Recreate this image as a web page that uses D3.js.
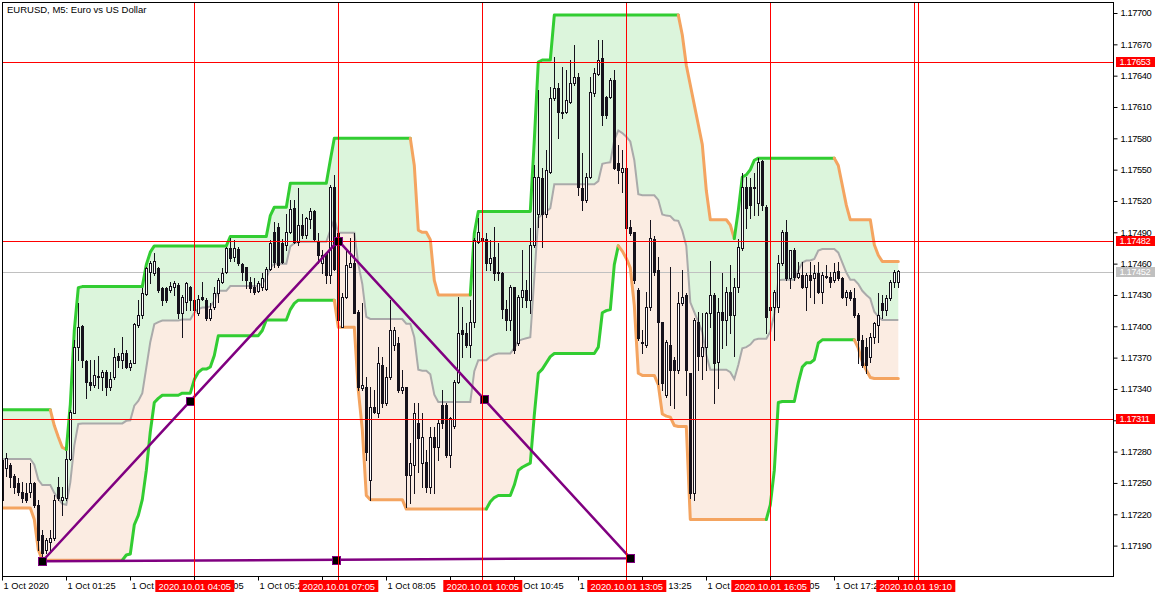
<!DOCTYPE html>
<html><head><meta charset="utf-8">
<script src="https://cdn.jsdelivr.net/npm/d3@7"></script>
<style>body{margin:0;background:#fff}svg{display:block}text{font-family:"Liberation Sans",Arial,sans-serif}</style>
</head><body><svg id="c" width="1166" height="597"></svg>
<script>
const title = "EURUSD, M5:  Euro vs US Dollar";
const open = [1.17272,1.17264,1.17267,1.17257,1.17250,1.17241,1.17240,1.17241,1.17250,1.17229,
1.17200,1.17186,1.17193,1.17197,1.17246,1.17234,1.17236,1.17273,1.17317,1.17380,
1.17400,1.17367,1.17347,1.17344,1.17351,1.17351,1.17356,1.17342,1.17351,1.17372,
1.17368,1.17374,1.17361,1.17365,1.17401,1.17411,1.17431,1.17452,1.17451,1.17456,
1.17437,1.17437,1.17435,1.17438,1.17440,1.17413,1.17423,1.17438,1.17425,1.17413,
1.17428,1.17425,1.17408,1.17418,1.17432,1.17442,1.17452,1.17475,1.17466,1.17474,
1.17460,1.17457,1.17442,1.17438,1.17434,1.17438,1.17436,1.17455,1.17490,1.17495,
1.17480,1.17478,1.17490,1.17513,1.17481,1.17497,1.17487,1.17503,1.17510,1.17481,
1.17461,1.17470,1.17449,1.17533,1.17489,1.17399,1.17428,1.17457,1.17461,1.17414,
1.17341,1.17342,1.17253,1.17323,1.17317,1.17363,1.17327,1.17351,1.17382,1.17384,
1.17339,1.17342,1.17258,1.17267,1.17307,1.17269,1.17270,1.17246,1.17294,1.17284,
1.17325,1.17325,1.17277,1.17305,1.17347,1.17396,1.17394,1.17382,1.17404,1.17481,
1.17485,1.17484,1.17461,1.17466,1.17452,1.17451,1.17417,1.17406,1.17438,1.17384,
1.17428,1.17435,1.17425,1.17478,1.17508,1.17542,1.17508,1.17548,1.17619,1.17628,
1.17605,1.17605,1.17615,1.17633,1.17639,1.17532,1.17521,1.17543,1.17623,1.17642,
1.17657,1.17620,1.17620,1.17636,1.17556,1.17548,1.17552,1.17495,1.17490,1.17435,
1.17384,1.17382,1.17418,1.17484,1.17454,1.17404,1.17334,1.17382,1.17368,1.17358,
1.17422,1.17430,1.17355,1.17240,1.17404,1.17372,1.17380,1.17413,1.17430,1.17366,
1.17414,1.17406,1.17433,1.17411,1.17438,1.17475,1.17533,1.17533,1.17533,1.17518,
1.17558,1.17514,1.17416,1.17418,1.17418,1.17461,1.17490,1.17446,1.17473,1.17447,
1.17449,1.17438,1.17449,1.17446,1.17451,1.17433,1.17448,1.17447,1.17444,1.17453,
1.17446,1.17428,1.17433,1.17427,1.17411,1.17387,1.17380,1.17371,1.17390,1.17401,
1.17422,1.17416,1.17427,1.17442,1.17442];
const high = [1.17277,1.17279,1.17269,1.17259,1.17255,1.17251,1.17250,1.17269,1.17251,1.17234,
1.17205,1.17197,1.17205,1.17238,1.17256,1.17246,1.17281,1.17320,1.17387,1.17422,
1.17401,1.17368,1.17368,1.17368,1.17372,1.17358,1.17358,1.17356,1.17379,1.17374,
1.17390,1.17377,1.17368,1.17403,1.17425,1.17437,1.17457,1.17463,1.17470,1.17457,
1.17438,1.17438,1.17442,1.17443,1.17441,1.17430,1.17442,1.17439,1.17435,1.17430,
1.17442,1.17427,1.17422,1.17438,1.17446,1.17456,1.17476,1.17485,1.17483,1.17476,
1.17461,1.17457,1.17447,1.17446,1.17443,1.17451,1.17457,1.17483,1.17500,1.17499,
1.17484,1.17508,1.17521,1.17521,1.17532,1.17508,1.17505,1.17513,1.17511,1.17489,
1.17473,1.17470,1.17535,1.17545,1.17494,1.17432,1.17473,1.17485,1.17489,1.17416,
1.17422,1.17351,1.17342,1.17339,1.17380,1.17371,1.17361,1.17425,1.17399,1.17390,
1.17358,1.17342,1.17288,1.17327,1.17327,1.17317,1.17282,1.17304,1.17304,1.17310,
1.17339,1.17327,1.17313,1.17349,1.17428,1.17418,1.17403,1.17425,1.17485,1.17504,
1.17494,1.17489,1.17483,1.17495,1.17480,1.17452,1.17425,1.17440,1.17438,1.17430,
1.17473,1.17444,1.17494,1.17554,1.17626,1.17552,1.17569,1.17629,1.17658,1.17633,
1.17648,1.17645,1.17655,1.17669,1.17643,1.17566,1.17547,1.17639,1.17647,1.17674,
1.17674,1.17621,1.17638,1.17645,1.17574,1.17569,1.17554,1.17502,1.17490,1.17437,
1.17396,1.17433,1.17502,1.17486,1.17466,1.17404,1.17387,1.17457,1.17371,1.17433,
1.17454,1.17432,1.17355,1.17408,1.17414,1.17413,1.17414,1.17463,1.17432,1.17427,
1.17451,1.17438,1.17459,1.17446,1.17484,1.17547,1.17543,1.17542,1.17547,1.17561,
1.17559,1.17516,1.17435,1.17435,1.17468,1.17492,1.17502,1.17473,1.17475,1.17462,
1.17462,1.17451,1.17462,1.17459,1.17462,1.17452,1.17459,1.17452,1.17461,1.17462,
1.17447,1.17435,1.17435,1.17437,1.17413,1.17392,1.17389,1.17394,1.17404,1.17432,
1.17430,1.17430,1.17444,1.17454,1.17454];
const low = [1.17232,1.17257,1.17246,1.17240,1.17238,1.17232,1.17232,1.17237,1.17227,1.17186,
1.17179,1.17183,1.17186,1.17195,1.17234,1.17219,1.17234,1.17272,1.17317,1.17368,
1.17361,1.17331,1.17339,1.17342,1.17341,1.17339,1.17334,1.17339,1.17350,1.17361,
1.17360,1.17360,1.17358,1.17365,1.17399,1.17408,1.17430,1.17441,1.17449,1.17433,
1.17420,1.17423,1.17433,1.17430,1.17408,1.17390,1.17416,1.17416,1.17413,1.17411,
1.17425,1.17406,1.17406,1.17417,1.17423,1.17441,1.17451,1.17463,1.17463,1.17459,
1.17444,1.17437,1.17433,1.17431,1.17433,1.17435,1.17435,1.17454,1.17457,1.17457,
1.17461,1.17473,1.17489,1.17480,1.17478,1.17485,1.17485,1.17494,1.17483,1.17461,
1.17451,1.17441,1.17441,1.17454,1.17399,1.17399,1.17427,1.17457,1.17413,1.17339,
1.17339,1.17272,1.17234,1.17317,1.17313,1.17323,1.17325,1.17350,1.17377,1.17337,
1.17336,1.17227,1.17231,1.17240,1.17260,1.17246,1.17241,1.17240,1.17240,1.17272,
1.17303,1.17275,1.17265,1.17303,1.17346,1.17371,1.17380,1.17371,1.17399,1.17480,
1.17461,1.17454,1.17454,1.17444,1.17444,1.17408,1.17396,1.17396,1.17374,1.17382,
1.17418,1.17418,1.17413,1.17476,1.17495,1.17476,1.17505,1.17547,1.17617,1.17580,
1.17599,1.17604,1.17614,1.17631,1.17526,1.17511,1.17519,1.17542,1.17621,1.17641,
1.17593,1.17599,1.17619,1.17551,1.17537,1.17529,1.17492,1.17487,1.17441,1.17387,
1.17374,1.17380,1.17416,1.17449,1.17345,1.17339,1.17332,1.17325,1.17322,1.17355,
1.17420,1.17334,1.17236,1.17234,1.17358,1.17350,1.17358,1.17399,1.17327,1.17341,
1.17379,1.17382,1.17394,1.17372,1.17433,1.17473,1.17494,1.17504,1.17507,1.17507,
1.17511,1.17394,1.17387,1.17387,1.17414,1.17459,1.17444,1.17437,1.17444,1.17446,
1.17437,1.17416,1.17428,1.17422,1.17432,1.17422,1.17446,1.17438,1.17442,1.17444,
1.17427,1.17420,1.17425,1.17409,1.17365,1.17361,1.17355,1.17366,1.17384,1.17385,
1.17408,1.17411,1.17425,1.17438,1.17438];
const close = [1.17234,1.17274,1.17256,1.17246,1.17241,1.17236,1.17234,1.17250,1.17229,1.17195,
1.17183,1.17195,1.17197,1.17234,1.17236,1.17237,1.17273,1.17318,1.17380,1.17399,
1.17368,1.17347,1.17344,1.17353,1.17352,1.17356,1.17342,1.17350,1.17371,1.17368,
1.17374,1.17361,1.17365,1.17402,1.17411,1.17432,1.17456,1.17461,1.17463,1.17435,
1.17425,1.17425,1.17439,1.17441,1.17413,1.17428,1.17441,1.17425,1.17416,1.17426,
1.17426,1.17408,1.17417,1.17432,1.17444,1.17451,1.17475,1.17465,1.17475,1.17461,
1.17452,1.17444,1.17437,1.17433,1.17441,1.17446,1.17455,1.17480,1.17462,1.17459,
1.17462,1.17490,1.17512,1.17481,1.17497,1.17487,1.17504,1.17510,1.17484,1.17468,
1.17468,1.17449,1.17533,1.17455,1.17406,1.17428,1.17459,1.17461,1.17413,1.17342,
1.17344,1.17280,1.17323,1.17318,1.17365,1.17327,1.17351,1.17396,1.17396,1.17339,
1.17342,1.17258,1.17269,1.17317,1.17293,1.17294,1.17246,1.17294,1.17284,1.17307,
1.17307,1.17277,1.17312,1.17347,1.17394,1.17393,1.17382,1.17404,1.17483,1.17490,
1.17483,1.17461,1.17465,1.17451,1.17451,1.17417,1.17406,1.17438,1.17377,1.17428,
1.17435,1.17425,1.17478,1.17543,1.17543,1.17508,1.17550,1.17619,1.17628,1.17605,
1.17604,1.17617,1.17633,1.17639,1.17533,1.17521,1.17543,1.17624,1.17643,1.17655,
1.17602,1.17602,1.17636,1.17552,1.17550,1.17552,1.17494,1.17489,1.17444,1.17389,
1.17385,1.17418,1.17485,1.17452,1.17404,1.17346,1.17385,1.17358,1.17358,1.17422,
1.17428,1.17358,1.17240,1.17406,1.17372,1.17380,1.17413,1.17430,1.17365,1.17414,
1.17406,1.17433,1.17411,1.17438,1.17476,1.17533,1.17513,1.17516,1.17532,1.17557,
1.17516,1.17409,1.17418,1.17433,1.17461,1.17490,1.17446,1.17473,1.17447,1.17451,
1.17438,1.17449,1.17444,1.17451,1.17433,1.17449,1.17447,1.17442,1.17452,1.17446,
1.17428,1.17433,1.17427,1.17411,1.17387,1.17363,1.17363,1.17390,1.17403,1.17411,
1.17416,1.17427,1.17442,1.17452,1.17453];
const upperBand = [1.17320,1.17320,1.17320,1.17320,1.17320,1.17320,1.17320,1.17320,1.17320,1.17320,
1.17320,1.17320,1.17320,1.17305,1.17294,1.17284,1.17282,1.17325,1.17396,1.17437,
1.17438,1.17438,1.17438,1.17438,1.17438,1.17438,1.17438,1.17438,1.17438,1.17438,
1.17438,1.17438,1.17438,1.17438,1.17438,1.17438,1.17459,1.17471,1.17477,1.17477,
1.17477,1.17477,1.17477,1.17477,1.17477,1.17477,1.17477,1.17477,1.17477,1.17477,
1.17477,1.17477,1.17477,1.17477,1.17477,1.17477,1.17477,1.17486,1.17486,1.17486,
1.17486,1.17486,1.17486,1.17486,1.17486,1.17486,1.17486,1.17506,1.17514,1.17514,
1.17514,1.17514,1.17537,1.17537,1.17537,1.17537,1.17537,1.17537,1.17537,1.17537,
1.17537,1.17537,1.17559,1.17580,1.17580,1.17580,1.17580,1.17580,1.17580,1.17580,
1.17580,1.17580,1.17580,1.17580,1.17580,1.17580,1.17580,1.17580,1.17580,1.17580,
1.17580,1.17580,1.17580,1.17554,1.17492,1.17490,1.17490,1.17483,1.17444,1.17430,
1.17430,1.17430,1.17430,1.17430,1.17430,1.17430,1.17430,1.17430,1.17489,1.17510,
1.17510,1.17510,1.17510,1.17510,1.17510,1.17510,1.17510,1.17510,1.17510,1.17510,
1.17510,1.17510,1.17510,1.17578,1.17653,1.17655,1.17655,1.17655,1.17698,1.17698,
1.17698,1.17698,1.17698,1.17698,1.17698,1.17698,1.17698,1.17698,1.17698,1.17698,
1.17698,1.17698,1.17698,1.17698,1.17698,1.17698,1.17698,1.17698,1.17698,1.17698,
1.17698,1.17698,1.17698,1.17698,1.17698,1.17698,1.17698,1.17698,1.17698,1.17698,
1.17679,1.17650,1.17631,1.17612,1.17593,1.17574,1.17530,1.17502,1.17502,1.17502,
1.17502,1.17502,1.17497,1.17484,1.17511,1.17543,1.17545,1.17550,1.17559,1.17561,
1.17561,1.17561,1.17561,1.17561,1.17561,1.17561,1.17561,1.17561,1.17561,1.17561,
1.17561,1.17561,1.17561,1.17561,1.17561,1.17561,1.17561,1.17561,1.17561,1.17554,
1.17535,1.17516,1.17502,1.17502,1.17502,1.17502,1.17502,1.17502,1.17478,1.17468,
1.17462,1.17462,1.17462,1.17462,1.17462];
const lowerBand = [1.17226,1.17226,1.17226,1.17226,1.17226,1.17226,1.17226,1.17226,1.17215,1.17186,
1.17176,1.17176,1.17176,1.17176,1.17176,1.17176,1.17176,1.17176,1.17176,1.17176,
1.17176,1.17176,1.17176,1.17176,1.17176,1.17176,1.17176,1.17176,1.17176,1.17176,
1.17176,1.17181,1.17182,1.17210,1.17219,1.17234,1.17262,1.17299,1.17327,1.17331,
1.17334,1.17334,1.17334,1.17334,1.17334,1.17336,1.17336,1.17336,1.17349,1.17356,
1.17359,1.17359,1.17361,1.17372,1.17391,1.17391,1.17391,1.17391,1.17391,1.17391,
1.17391,1.17391,1.17391,1.17391,1.17391,1.17396,1.17406,1.17406,1.17406,1.17406,
1.17406,1.17406,1.17416,1.17422,1.17425,1.17425,1.17425,1.17425,1.17425,1.17425,
1.17425,1.17425,1.17425,1.17425,1.17399,1.17399,1.17399,1.17399,1.17399,1.17339,
1.17301,1.17238,1.17234,1.17234,1.17234,1.17234,1.17234,1.17234,1.17234,1.17234,
1.17234,1.17225,1.17225,1.17225,1.17225,1.17225,1.17225,1.17225,1.17225,1.17225,
1.17225,1.17225,1.17225,1.17225,1.17225,1.17225,1.17225,1.17225,1.17225,1.17225,
1.17225,1.17225,1.17232,1.17236,1.17238,1.17238,1.17238,1.17238,1.17248,1.17262,
1.17265,1.17267,1.17269,1.17315,1.17355,1.17359,1.17365,1.17371,1.17374,1.17374,
1.17374,1.17374,1.17374,1.17374,1.17374,1.17374,1.17374,1.17374,1.17374,1.17380,
1.17413,1.17415,1.17416,1.17459,1.17477,1.17472,1.17465,1.17456,1.17420,1.17355,
1.17353,1.17353,1.17353,1.17353,1.17344,1.17316,1.17314,1.17313,1.17305,1.17304,
1.17304,1.17304,1.17215,1.17215,1.17215,1.17215,1.17215,1.17215,1.17215,1.17215,
1.17215,1.17215,1.17215,1.17215,1.17215,1.17215,1.17215,1.17215,1.17215,1.17215,
1.17215,1.17215,1.17229,1.17262,1.17327,1.17328,1.17328,1.17328,1.17328,1.17346,
1.17361,1.17365,1.17365,1.17368,1.17384,1.17387,1.17387,1.17387,1.17387,1.17387,
1.17387,1.17387,1.17387,1.17387,1.17379,1.17366,1.17358,1.17351,1.17350,1.17350,
1.17350,1.17350,1.17350,1.17350,1.17350];
const priceTicks = [1.17190,1.17220,1.17250,1.17280,1.17310,1.17340,1.17370,1.17400,1.17430,1.17460,1.17490,1.17520,1.17550,1.17580,1.17610,1.17640,1.17670,1.17700];
const timeTickBars = [0,16,32,48,64,80,96,112,128,144,160,176,192,208,224];
const timeTickLabels = ["1 Oct 2020","1 Oct 01:25","1 Oct 02:45","1 Oct 04:05","1 Oct 05:25","1 Oct 06:45","1 Oct 08:05","1 Oct 09:25","1 Oct 10:45","1 Oct 12:05","1 Oct 13:25","1 Oct 14:45","1 Oct 16:05","1 Oct 17:25","1 Oct 18:45"];
const hLevels = [1.17653, 1.17482, 1.17311];
const bidPrice = 1.17452;
const vLineBars = [48, 84, 120, 156, 192, 228, 229];
const vLabelBars = [48, 84, 120, 156, 192, 228.25];
const vLabelTexts = ["2020.10.01 04:05","2020.10.01 07:05","2020.10.01 10:05","2020.10.01 13:05","2020.10.01 16:05","2020.10.01 19:10"];
const triBars = [10, 84, 157];
const triPrices = [1.17175, 1.17482, 1.17178];

const svg = d3.select("#c");
const W = 1166, H = 597;
const x = d3.scaleLinear().domain([0, 224]).range([2.3, 898.3]);
const y = d3.scaleLinear().domain([1.17190, 1.17700]).range([545.6, 13]);
const N = open.length;
const idx = d3.range(N);
const mid = idx.map(i => (upperBand[i] + lowerBand[i]) / 2);
const BEAR = "#16121c";

svg.append("rect").attr("width", W).attr("height", H).attr("fill", "#fff");
svg.append("defs").append("clipPath").attr("id", "clip")
  .append("rect").attr("x", 3).attr("y", 3).attr("width", 1110).attr("height", 573);
const g = svg.append("g").attr("clip-path", "url(#clip)");

// channel fills
g.append("path").datum(idx).attr("fill", "#dcf5dc")
  .attr("d", d3.area().x(i => x(i)).y0(i => y(mid[i])).y1(i => y(upperBand[i])));
g.append("path").datum(idx).attr("fill", "#fbece2")
  .attr("d", d3.area().x(i => x(i)).y0(i => y(lowerBand[i])).y1(i => y(mid[i])));

// bid line
g.append("line").attr("x1", 3).attr("x2", 1113).attr("y1", Math.round(y(bidPrice)) + 0.5).attr("y2", Math.round(y(bidPrice)) + 0.5)
  .attr("stroke", "#c0c0c0");

// midline
const ln = d3.line().x(i => x(i)).y(i => y(mid[i]));
g.append("path").datum(idx).attr("d", ln).attr("fill", "none").attr("stroke", "#aaaaaa").attr("stroke-width", 2);

// band lines coloured by direction
function runs(v, startUp) {
  let dir = startUp; const segs = []; let cur = { up: dir, pts: [0] };
  for (let i = 1; i < v.length; i++) {
    const d = v[i] > v[i - 1] ? true : v[i] < v[i - 1] ? false : dir;
    if (d !== cur.up) { segs.push(cur); cur = { up: d, pts: [i - 1] }; }
    cur.pts.push(i); dir = d;
  }
  segs.push(cur); return segs;
}
[[upperBand, true], [lowerBand, false]].forEach(([v, s]) => {
  const l = d3.line().x(i => x(i)).y(i => y(v[i]));
  runs(v, s).forEach(seg => {
    g.append("path").datum(seg.pts).attr("d", l).attr("fill", "none")
      .attr("stroke", seg.up ? "#32cd32" : "#f4a460").attr("stroke-width", 3)
      .attr("stroke-linejoin", "round").attr("stroke-linecap", "round");
  });
});

// candles
const cg = g.append("g");
idx.forEach(i => {
  const cx = Math.floor(x(i));
  const bull = close[i] >= open[i];
  cg.append("line").attr("x1", cx + 0.5).attr("x2", cx + 0.5)
    .attr("y1", Math.round(y(high[i]))).attr("y2", Math.round(y(low[i])) + 1)
    .attr("stroke", BEAR).attr("stroke-width", 1);
  const yt = Math.round(y(Math.max(open[i], close[i])));
  const yb = Math.round(y(Math.min(open[i], close[i])));
  cg.append("rect").attr("x", cx - 0.5).attr("y", yt + 0.5).attr("width", 2).attr("height", Math.max(0, yb - yt))
    .attr("fill", bull ? "#fff" : BEAR).attr("stroke", BEAR).attr("stroke-width", 1);
});

// red lines
hLevels.forEach(p => {
  const yy = Math.round(y(p)) + 0.5;
  g.append("line").attr("x1", 3).attr("x2", 1113).attr("y1", yy).attr("y2", yy).attr("stroke", "#ff0000");
});
vLineBars.forEach(b => {
  const xx = Math.floor(x(b)) + 0.5;
  svg.append("line").attr("x1", xx).attr("x2", xx).attr("y1", 3).attr("y2", 580).attr("stroke", "#ff0000");
});

// triangle
const pts = triBars.map((b, k) => [x(b), y(triPrices[k])]);
g.append("path").attr("d", d3.line()([...pts, pts[0]])).attr("fill", "none")
  .attr("stroke", "#800080").attr("stroke-width", 2.5).attr("stroke-linejoin", "round");
const mids = pts.map((p, k) => { const q = pts[(k + 1) % 3]; return [(p[0] + q[0]) / 2, (p[1] + q[1]) / 2]; });
[...pts, ...mids].forEach(p => {
  g.append("rect").attr("x", Math.round(p[0]) - 4 + 0.5).attr("y", Math.round(p[1]) - 4 + 0.5)
    .attr("width", 8).attr("height", 8).attr("fill", "#000").attr("stroke", "#800080").attr("stroke-width", 1);
});

// frame
svg.append("rect").attr("x", 2.5).attr("y", 2.5).attr("width", 1111).attr("height", 574)
  .attr("fill", "none").attr("stroke", "#000");

// right axis
const ay = svg.append("g").attr("transform", "translate(1113.5,0)")
  .call(d3.axisRight(y).tickValues(priceTicks).tickSize(4).tickPadding(3).tickFormat(d3.format(".5f")));
ay.select(".domain").remove();
ay.selectAll("line").attr("stroke", "#000");
ay.selectAll("text").attr("font-size", "9.3px").attr("letter-spacing", "-0.4px").attr("fill", "#000")
  .style("font-family", "Liberation Sans, Arial, sans-serif");

// bottom axis
const ax = svg.append("g").attr("transform", "translate(0,576.5)")
  .call(d3.axisBottom(x).tickValues(timeTickBars).tickSize(4).tickFormat((d, i) => timeTickLabels[i]));
ax.select(".domain").remove();
ax.selectAll(".tick").attr("transform", d => `translate(${Math.floor(x(d)) + 0.5},0)`);
ax.selectAll("line").attr("stroke", "#000");
ax.selectAll("text").attr("font-size", "9.3px").attr("text-anchor", "start").attr("x", 1).attr("y", 0).attr("dy", "12.6px")
  .attr("fill", "#000").style("font-family", "Liberation Sans, Arial, sans-serif");

// price labels on axis
function priceLabel(p, col) {
  const yy = Math.round(y(p));
  svg.append("rect").attr("x", 1116).attr("y", yy - 5).attr("width", 39).attr("height", 10).attr("fill", col);
  svg.append("text").attr("x", 1119.5).attr("y", yy).attr("dy", "0.35em").attr("font-size", "9.3px")
    .attr("letter-spacing", "-0.4px").attr("fill", "#fff").text(d3.format(".5f")(p));
}
priceLabel(bidPrice, "#c0c0c0");
hLevels.forEach(p => priceLabel(p, "#ff0000"));

// time labels
vLabelBars.forEach((b, k) => {
  const xx = x(b);
  svg.append("rect").attr("x", xx - 39).attr("y", 580).attr("width", 79).attr("height", 12).attr("fill", "#ff0000");
  svg.append("text").attr("x", xx + 0.5).attr("y", 589.5).attr("text-anchor", "middle").attr("font-size", "9.3px")
    .attr("fill", "#fff").text(vLabelTexts[k]);
});

// title
svg.append("text").attr("x", 7).attr("y", 13).attr("font-size", "9.5px").attr("fill", "#000").text(title);
</script></body></html>
